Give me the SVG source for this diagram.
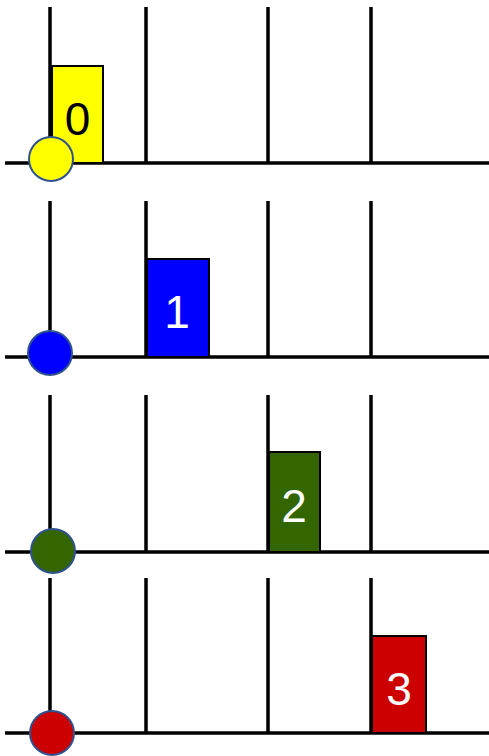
<svg xmlns="http://www.w3.org/2000/svg" width="489" height="756" viewBox="0 0 489 756">
<style>
.ln{stroke:#000;stroke-width:3.5;fill:none}
.bx{stroke:#000;stroke-width:2}
.dot{stroke:#2F528F;stroke-width:2}
.lbl{font-family:"Liberation Sans",Arial,sans-serif;font-size:46px;text-anchor:middle}
</style>
<g id="connectors">
<path class="ln" d="M50 7V163M146 7V163M268 7V163M371 7V163M5 163H489"/>
<path class="ln" d="M50 201V357M146 201V357M268 201V357M371 201V357M5 357H489"/>
<path class="ln" d="M50 395V552M146 395V552M268 395V552M371 395V552M5 552H489"/>
<path class="ln" d="M50 578V733M146 578V733M268 578V733M371 578V733M5 733H489"/>
</g>
<g id="box0"><rect class="bx" x="52" y="66" width="51" height="97" fill="#FFFF00"/><text class="lbl" x="77.5" y="135" fill="#000">0</text></g>
<g id="ball0"><circle class="dot" cx="51" cy="159" r="22" fill="#FFFF00"/></g>
<g id="box1"><rect class="bx" x="147" y="259" width="62" height="98" fill="#0000FF"/><text class="lbl" x="177" y="328" fill="#fff">1</text></g>
<g id="ball1"><circle class="dot" cx="50" cy="353" r="22" fill="#0000FF"/></g>
<g id="box2"><rect class="bx" x="269" y="452" width="51" height="100" fill="#336600"/><text class="lbl" x="294" y="522" fill="#fff">2</text></g>
<g id="ball2"><circle class="dot" cx="53" cy="551" r="22" fill="#336600"/></g>
<g id="box3"><rect class="bx" x="372" y="636" width="54" height="97" fill="#CC0000"/><text class="lbl" x="399" y="705" fill="#fff">3</text></g>
<g id="ball3"><circle class="dot" cx="52" cy="733" r="22" fill="#CC0000"/></g>
</svg>
